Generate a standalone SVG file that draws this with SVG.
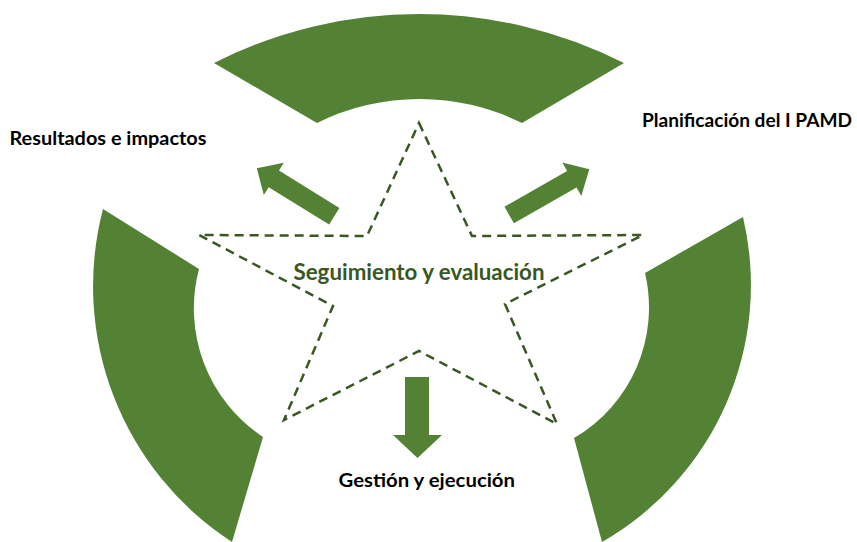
<svg xmlns="http://www.w3.org/2000/svg" width="857" height="542" viewBox="0 0 857 542">
<style>
.arc{fill:#548235}
.arrow{fill:#548235}
.star{fill:none;stroke:#385723;stroke-width:2.5;stroke-dasharray:9 6}
.lbl{font-family:Lato,"Open Sans","Liberation Sans",sans-serif;font-weight:bold;fill:#000;font-size:18px}
.center{font-family:Lato,"Open Sans","Liberation Sans",sans-serif;font-weight:bold;fill:#385723;font-size:23px}
</style>
<rect width="857" height="542" fill="#fff"/>
<g id="arc-top"><path class="arc" d="M214,63 A453,453 0 0 1 624,63 L522,123 A231,231 0 0 0 317,123 Z"/></g>
<g id="arc-left"><path class="arc" d="M103,209 A305,305 0 0 0 232,542 L263,437 A154,154 0 0 1 199,269 Z"/></g>
<g id="arc-right"><path class="arc" d="M743,217 A296,296 0 0 1 602,542 L574,438 A151,151 0 0 0 645,273 Z"/></g>
<g id="star"><polygon class="star" points="419,123 472,236 643,235 505,304 557,424 419,351 284,420 333,306 199,235 367,236"/></g>
<g id="connectors">
<polygon class="arrow" points="339.4,207.9 279,170.6 283.8,162.7 256.8,168.3 263.8,195.1 268.7,187.2 329.1,224.5"/>
<polygon class="arrow" points="504.5,206.7 567.1,171 562.3,162.6 589.3,169.3 581.3,196 576.5,187.6 513.9,223.3"/>
<polygon class="arrow" points="405,377 429,377 429,435 442,435 417.5,458 393,435 405,435"/>
</g>
<g id="label-resultados"><text class="lbl" x="9.5" y="145" textLength="197" lengthAdjust="spacingAndGlyphs">Resultados e impactos</text></g>
<g id="label-planificacion"><text class="lbl" x="642" y="127" textLength="210" lengthAdjust="spacingAndGlyphs">Planificación del I PAMD</text></g>
<g id="label-gestion"><text class="lbl" x="338.5" y="487" textLength="176.5" lengthAdjust="spacingAndGlyphs">Gestión y ejecución</text></g>
<g id="label-seguimiento"><text class="center" x="293.5" y="279.5" textLength="251" lengthAdjust="spacingAndGlyphs">Seguimiento y evaluación</text></g>
</svg>
